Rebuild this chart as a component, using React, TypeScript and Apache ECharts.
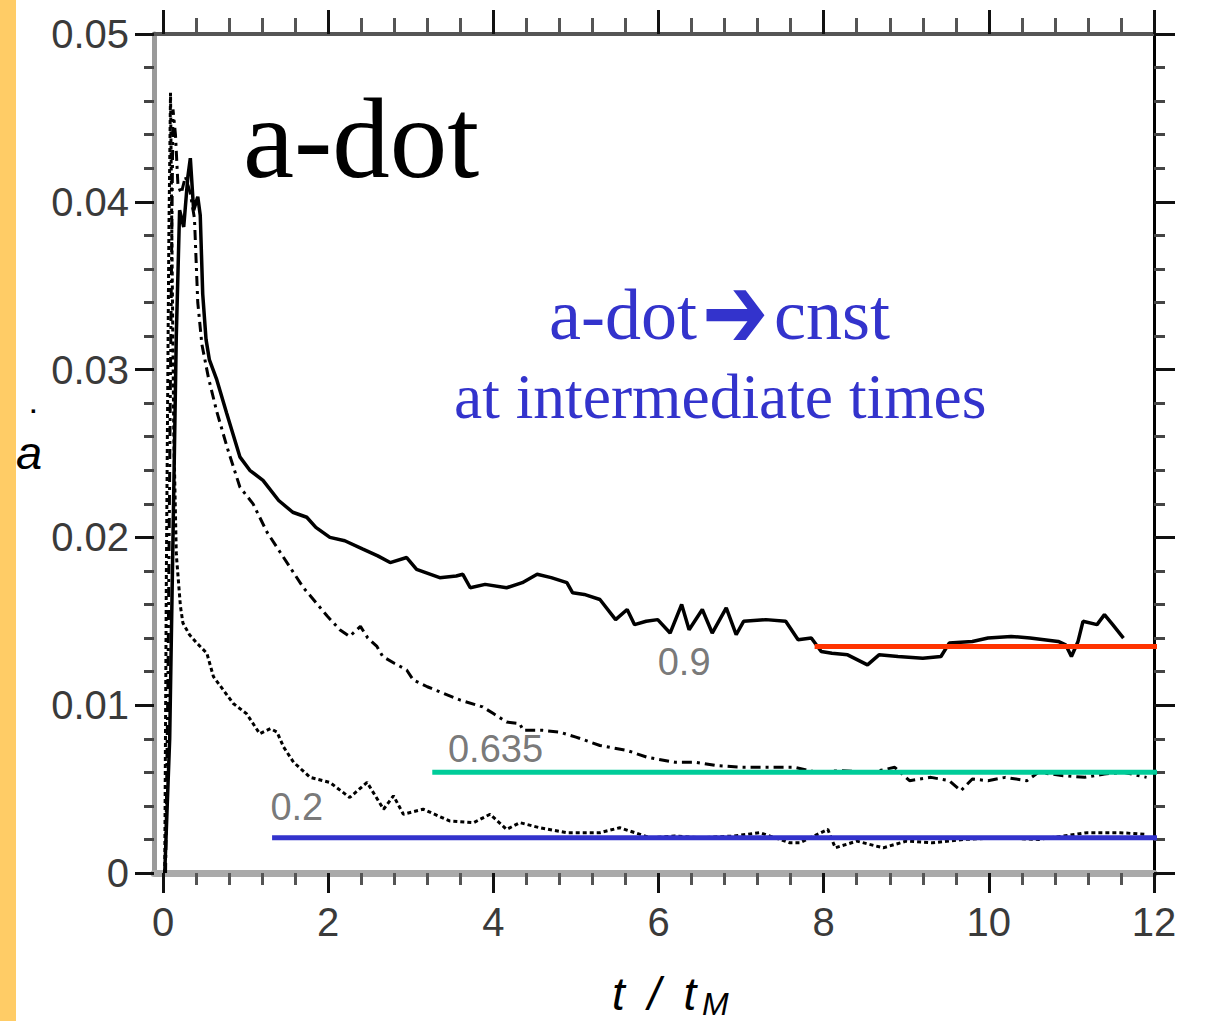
import React, { useEffect, useRef } from "react";
import * as echarts from "echarts";

// Axis ticks
const xMajorTicks = [0, 2, 4, 6, 8, 10, 12];
const xMinorTicks = [
  0.4, 0.8, 1.2, 1.6, 2.4, 2.8, 3.2, 3.6, 4.4, 4.8, 5.2, 5.6,
  6.4, 6.8, 7.2, 7.6, 8.4, 8.8, 9.2, 9.6, 10.4, 10.8, 11.2, 11.6,
];

// a-dot vs t/t_M for three runs (labelled 0.9, 0.635, 0.2)
const run09: [number, number][] = [
  [0.02, 0], [0.08, 0.008], [0.12, 0.02], [0.16, 0.032], [0.2, 0.0395], [0.25, 0.0385],
  [0.3, 0.0415], [0.33, 0.0426], [0.37, 0.0395], [0.42, 0.0403], [0.45, 0.0392], [0.48, 0.0345],
  [0.52, 0.0318], [0.56, 0.0306], [0.65, 0.0294], [0.77, 0.0274], [0.93, 0.0248], [1.05, 0.024],
  [1.21, 0.0234], [1.4, 0.0222], [1.57, 0.0215], [1.74, 0.0212], [1.85, 0.0206], [2.02, 0.02],
  [2.2, 0.0198], [2.42, 0.0193], [2.6, 0.0189], [2.75, 0.0185], [2.95, 0.0188], [3.07, 0.0181],
  [3.35, 0.0176], [3.55, 0.0177], [3.63, 0.0178], [3.72, 0.017], [3.9, 0.0172], [4.16, 0.017],
  [4.35, 0.0173], [4.53, 0.0178], [4.7, 0.0176], [4.89, 0.0173], [4.96, 0.0167], [5.1, 0.0166],
  [5.29, 0.0163], [5.48, 0.0151], [5.62, 0.0157], [5.71, 0.0148], [5.85, 0.015], [5.99, 0.0151],
  [6.14, 0.0143], [6.28, 0.016], [6.37, 0.0145], [6.53, 0.0157], [6.65, 0.0143], [6.82, 0.0158],
  [6.94, 0.0142], [7.03, 0.015], [7.3, 0.0151], [7.54, 0.015], [7.69, 0.0139], [7.85, 0.014],
  [7.97, 0.0132], [8.1, 0.0131], [8.29, 0.013], [8.53, 0.0124], [8.67, 0.013], [8.9, 0.0129],
  [9.2, 0.0128], [9.42, 0.0129], [9.52, 0.0137], [9.8, 0.0138], [9.99, 0.014], [10.27, 0.0141],
  [10.5, 0.014], [10.84, 0.0138], [10.93, 0.0136], [11.0, 0.0129], [11.08, 0.0138], [11.14, 0.015],
  [11.31, 0.0148], [11.4, 0.0154], [11.5, 0.0148], [11.63, 0.014],
];

const run0635: [number, number][] = [
  [0.03, 0], [0.06, 0.012], [0.09, 0.03], [0.12, 0.0455], [0.15, 0.044], [0.18, 0.041],
  [0.22, 0.0405], [0.27, 0.0415], [0.33, 0.0405], [0.38, 0.039], [0.42, 0.034], [0.47, 0.0315],
  [0.55, 0.0295], [0.65, 0.0275], [0.78, 0.0253], [0.93, 0.023], [1.09, 0.022], [1.26, 0.0203],
  [1.42, 0.0191], [1.54, 0.0182], [1.7, 0.017], [1.82, 0.0163], [1.99, 0.0153], [2.14, 0.0145],
  [2.26, 0.0141], [2.39, 0.0147], [2.48, 0.014], [2.59, 0.0135], [2.66, 0.0129], [2.8, 0.0125],
  [2.95, 0.0121], [3.03, 0.0115], [3.2, 0.0111], [3.35, 0.0108], [3.6, 0.0103], [3.87, 0.0099],
  [4.0, 0.0095], [4.16, 0.009], [4.32, 0.0089], [4.36, 0.0085], [4.6, 0.0085], [4.8, 0.0084],
  [5.0, 0.0081], [5.29, 0.0076], [5.62, 0.0073], [5.86, 0.0069], [6.2, 0.0066], [6.45, 0.0066],
  [6.7, 0.0064], [7.0, 0.0063], [7.26, 0.0063], [7.64, 0.0063], [7.92, 0.006], [8.2, 0.0061],
  [8.58, 0.006], [8.86, 0.0063], [9.04, 0.0055], [9.3, 0.0057], [9.52, 0.0055], [9.66, 0.0049],
  [9.8, 0.0056], [9.99, 0.0055], [10.2, 0.0057], [10.46, 0.0055], [10.6, 0.006], [10.9, 0.0058],
  [11.16, 0.0057], [11.4, 0.0059], [11.63, 0.006], [11.91, 0.0057],
];

const run02: [number, number][] = [
  [0.02, 0], [0.04, 0.018], [0.07, 0.038], [0.09, 0.0465], [0.11, 0.036], [0.13, 0.026],
  [0.16, 0.019], [0.21, 0.0159], [0.24, 0.0149], [0.32, 0.0142], [0.41, 0.0137], [0.53, 0.0131],
  [0.61, 0.0117], [0.73, 0.0109], [0.85, 0.0101], [1.01, 0.0095], [1.17, 0.0083], [1.3, 0.0086],
  [1.38, 0.0084], [1.46, 0.0075], [1.58, 0.0066], [1.78, 0.0057], [2.02, 0.0054], [2.26, 0.0045],
  [2.47, 0.0054], [2.67, 0.0038], [2.79, 0.0046], [2.91, 0.0035], [3.15, 0.0038], [3.47, 0.0031],
  [3.76, 0.003], [3.96, 0.0035], [4.16, 0.0026], [4.32, 0.003], [4.56, 0.0027], [4.89, 0.0024],
  [5.29, 0.0024], [5.53, 0.0027], [5.9, 0.0021], [6.2, 0.0022], [6.5, 0.0021], [6.9, 0.0022],
  [7.23, 0.0024], [7.59, 0.0018], [7.71, 0.0018], [8.05, 0.0026], [8.14, 0.0015], [8.4, 0.0019],
  [8.72, 0.0015], [9.0, 0.0019], [9.32, 0.0018], [9.7, 0.002], [10.13, 0.0021], [10.6, 0.002],
  [11.19, 0.0024], [11.59, 0.0024], [11.91, 0.0023],
];

// Constant a-dot levels reached at intermediate times
const plateau09: [number, number][] = [[7.89, 0.0135], [12.55, 0.0135]];
const plateau0635: [number, number][] = [[3.26, 0.006], [12.15, 0.006]];
const plateau02: [number, number][] = [[1.32, 0.0021], [12.15, 0.0021]];

// Curve captions, anchored at their left edge
const curveNames = ["0.9", "0.635", "0.2"];
const curveNamePos: [number, number][] = [[5.99, 0.01257], [3.45, 0.00739], [1.3, 0.00393]];

const NARROW = "'Liberation Sans Narrow', 'Liberation Sans', Arial, sans-serif";
const SERIF = "'Liberation Serif', 'Times New Roman', serif";
const BLUE = "#3333cc";

function curve(name: string, data: [number, number][], type: any, width: number) {
  return {
    type: "line",
    name,
    data,
    xAxisIndex: 0,
    yAxisIndex: 0,
    symbol: "none",
    showSymbol: false,
    lineStyle: { color: "#000", width, type },
    z: 2,
  };
}

function plateau(data: [number, number][], color: string) {
  return {
    type: "line",
    data,
    xAxisIndex: 0,
    yAxisIndex: 0,
    symbol: "none",
    showSymbol: false,
    clip: false,
    lineStyle: { color, width: 5, cap: "butt" },
    z: 5,
  };
}

function xAxis(position: "top" | "bottom", ticks: number[], len: number, color: string, lineShow: boolean, lineColor: string, lineWidth: number, labels: boolean) {
  return {
    type: "value",
    position,
    min: -0.11,
    max: 12,
    axisLine: { show: lineShow, onZero: false, lineStyle: { color: lineColor, width: lineWidth } },
    axisTick: { show: true, inside: false, customValues: ticks, length: len, lineStyle: { color, width: 3 } },
    axisLabel: labels
      ? { show: true, customValues: xMajorTicks, margin: 29, fontSize: 40, fontFamily: NARROW, color: "#3a3a3a" }
      : { show: false },
    splitLine: { show: false },
    minorTick: { show: false },
  };
}

function yAxis(position: "left" | "right", lineColor: string, lineWidth: number, len: number, minorLen: number, labels: boolean) {
  return {
    type: "value",
    position,
    min: 0,
    max: 0.05,
    interval: 0.01,
    axisLine: { show: true, onZero: false, lineStyle: { color: lineColor, width: lineWidth } },
    axisTick: { show: true, inside: false, length: len, lineStyle: { color: "#111", width: 3 } },
    minorTick: { show: true, splitNumber: 5, length: minorLen, lineStyle: { color: "#444", width: 3 } },
    axisLabel: labels
      ? { show: true, margin: 25, fontSize: 40, fontFamily: NARROW, color: "#3a3a3a" }
      : { show: false },
    splitLine: { show: false },
    minorSplitLine: { show: false },
  };
}

export default function App() {
  const ref = useRef<HTMLDivElement>(null);

  useEffect(() => {
    const chart = echarts.init(ref.current!, null, { renderer: "svg" });

    const option: any = {
      animation: false,
      backgroundColor: "#ffffff",
      grid: { left: 154, right: 55, top: 34, bottom: 148, outerBoundsMode: "none", containLabel: false },
      xAxis: [
        xAxis("bottom", xMajorTicks, 20, "#111", true, "#aaaaaa", 7, true),
        xAxis("bottom", xMinorTicks, 12, "#555", false, "#aaaaaa", 7, false),
        xAxis("top", xMajorTicks, 24, "#111", true, "#555555", 4, false),
        xAxis("top", xMinorTicks, 16, "#555", false, "#555555", 4, false),
      ],
      yAxis: [
        yAxis("left", "#9a9a9a", 5, 19, 10, true),
        yAxis("right", "#000000", 3, 21, 11, false),
      ],
      series: [
        curve("0.9", run09, "solid", 3.5),
        curve("0.635", run0635, [10, 5, 3, 5], 3),
        curve("0.2", run02, [4, 3], 3),
        plateau(plateau09, "#ff3300"),
        plateau(plateau0635, "#00cc99"),
        plateau(plateau02, BLUE),
        {
          type: "scatter",
          xAxisIndex: 0,
          yAxisIndex: 0,
          symbolSize: 0,
          data: curveNames.map((n, i) => ({ name: n, value: curveNamePos[i] })),
          label: {
            show: true,
            position: "right",
            distance: 0,
            formatter: "{b}",
            fontSize: 38,
            fontFamily: NARROW,
            color: "#555",
          },
          z: 6,
        },
      ],
      graphic: [
        {
          type: "text",
          x: 243,
          y: 138,
          style: { text: "a-dot", font: `115px ${SERIF}`, fill: "#000", textAlign: "left", textVerticalAlign: "middle" },
        },
        {
          type: "text",
          x: 549,
          y: 315,
          style: { text: "a-dot", font: `72px ${SERIF}`, fill: BLUE, textAlign: "left", textVerticalAlign: "middle" },
        },
        {
          type: "text",
          x: 702,
          y: 312,
          scaleX: 1.1,
          scaleY: 1.45,
          style: { text: "➔", font: `72px 'DejaVu Sans', sans-serif`, fill: BLUE, textAlign: "left", textVerticalAlign: "middle" },
        },
        {
          type: "text",
          x: 774,
          y: 315,
          style: { text: "cnst", font: `72px ${SERIF}`, fill: BLUE, textAlign: "left", textVerticalAlign: "middle" },
        },
        {
          type: "text",
          x: 454,
          y: 396,
          style: { text: "at intermediate times", font: `63.5px ${SERIF}`, fill: BLUE, textAlign: "left", textVerticalAlign: "middle" },
        },
        // y-axis title: a with a dot above
        {
          type: "text",
          x: 16,
          y: 452,
          style: { text: "a", font: `italic 47px 'Liberation Sans', Arial, sans-serif`, fill: "#000", textAlign: "left", textVerticalAlign: "middle" },
        },
        {
          type: "text",
          x: 30,
          y: 404,
          style: { text: ".", font: `bold 24px 'Liberation Sans', Arial, sans-serif`, fill: "#000", textAlign: "left", textVerticalAlign: "middle" },
        },
        // x-axis title: t / t_M
        {
          type: "text",
          x: 612,
          y: 994,
          style: { text: "t\u2002/\u2002t", font: `italic 46px ${NARROW}`, fill: "#000", textAlign: "left", textVerticalAlign: "middle" },
        },
        {
          type: "text",
          x: 702,
          y: 1004,
          style: { text: "M", font: `italic 32px ${NARROW}`, fill: "#000", textAlign: "left", textVerticalAlign: "middle" },
        },
        {
          type: "rect",
          shape: { x: 0, y: 0, width: 16, height: 1021 },
          style: { fill: "#ffcc66" },
          z: 100,
        },
      ],
    };

    chart.setOption(option);
    return () => chart.dispose();
  }, []);

  return (
    <div
      ref={ref}
      style={{ position: "fixed", left: 0, top: 0, width: 1209, height: 1021, background: "#ffffff" }}
    />
  );
}
